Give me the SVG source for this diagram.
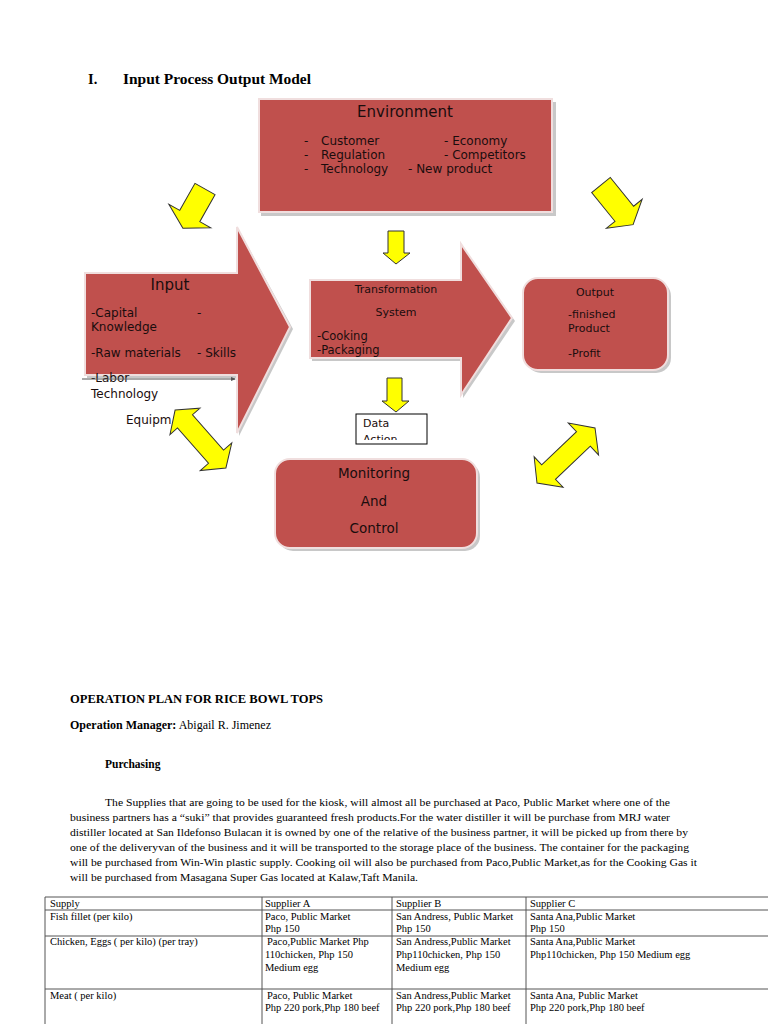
<svg xmlns="http://www.w3.org/2000/svg" width="768" height="1024" viewBox="0 0 768 1024">
<style>
.red{fill:#c0504d;stroke:#f0dede;stroke-width:2}
.sh{fill:#9a9a9a;opacity:0.55}
.yel{fill:#ffff00;stroke:#333;stroke-width:1;stroke-linejoin:miter}
.d{font-family:"DejaVu Sans",Verdana,sans-serif;fill:#1a0d0d}
.s{font-family:"Liberation Serif","Times New Roman",serif;fill:#000}
.b{font-weight:bold}
.tl{stroke:#555;stroke-width:1;fill:none}
</style>
<defs>
<clipPath id="daclip"><rect x="357" y="415" width="69" height="25"/></clipPath>
</defs>
<rect width="768" height="1024" fill="#fff"/>

<text class="s b" x="88" y="84" font-size="14.5">I.</text>
<text class="s b" x="123" y="84" font-size="14.5" textLength="188" lengthAdjust="spacingAndGlyphs">Input Process Output Model</text>

<g id="environment">
<rect class="sh" x="261" y="102" width="295" height="114"/>
<rect class="red" x="259" y="99" width="293" height="113"/>
<text class="d" x="405" y="117" font-size="15" text-anchor="middle">Environment</text>
<g font-size="12" class="d">
<text class="d" x="304" y="145">-</text><text class="d" x="321" y="145">Customer</text>
<text class="d" x="304" y="159">-</text><text class="d" x="321" y="159">Regulation</text>
<text class="d" x="304" y="173">-</text><text class="d" x="321" y="173">Technology</text>
<text class="d" x="444" y="145">-  Economy</text>
<text class="d" x="444" y="159">- Competitors</text>
<text class="d" x="408" y="173">- New product</text>
</g>
</g>

<g id="input">
<path class="sh" d="M87,276 H239 V230 L293,329 L239,436 V378 H87 Z"/>
<path class="red" d="M85,273 H237 V227 L290,327 L237,433 V375 H85 Z"/>
<text class="d" x="170" y="290" font-size="15" text-anchor="middle">Input</text>
<g font-size="12">
<text class="d" x="91" y="317">-Capital</text><text class="d" x="197" y="317">-</text>
<text class="d" x="91" y="331">Knowledge</text>
<text class="d" x="91" y="357">-Raw materials</text><text class="d" x="197" y="357">- Skills</text>
<text class="d" x="91" y="382">-Labor</text>
<text class="d" x="91" y="398">Technology</text>
<text class="d" x="126" y="424">Equipm</text>
</g>
<line x1="82" y1="379" x2="235" y2="379" stroke="#555" stroke-width="1"/>
<path d="M231,377 L236,379 L231,381 Z" fill="#555"/>
</g>

<g id="transformation">
<path class="sh" d="M312,283 H463 V247 L515,321 L463,398 V361 H312 Z"/>
<path class="red" d="M310,280 H461 V244 L512,318 L461,395 V358 H310 Z"/>
<g font-size="11" text-anchor="middle">
<text class="d" x="396" y="293">Transformation</text>
<text class="d" x="396" y="316">System</text>
</g>
<text class="d" x="317" y="340" font-size="11.5">-Cooking</text>
<text class="d" x="317" y="354" font-size="11.5">-Packaging</text>
</g>

<g id="output">
<rect class="sh" x="526" y="281" width="145" height="92" rx="15"/>
<rect class="red" x="523" y="278" width="145" height="92" rx="15"/>
<text class="d" x="595" y="296" font-size="11" text-anchor="middle">Output</text>
<g font-size="11">
<text class="d" x="568" y="318">-finished</text>
<text class="d" x="568" y="332">Product</text>
<text class="d" x="568" y="357">-Profit</text>
</g>
</g>

<g id="data-action">
<rect x="356" y="414" width="71" height="30" fill="#fff" stroke="#000" stroke-width="1"/>
<g clip-path="url(#daclip)" font-size="11">
<text class="d" x="363" y="427">Data</text>
<text class="d" x="363" y="443">Action</text>
</g>
</g>

<g id="monitoring">
<rect class="sh" x="278" y="462" width="202" height="89" rx="15"/>
<rect class="red" x="275" y="459" width="202" height="89" rx="15"/>
<g font-size="13.5" text-anchor="middle">
<text class="d" x="374" y="478">Monitoring</text>
<text class="d" x="374" y="506">And</text>
<text class="d" x="374" y="533">Control</text>
</g>
</g>

<g id="connectors">
<path class="yel" d="M388,231 H404 V253 H410 L396,264 L383,253 H388 Z"/>
<path class="yel" d="M387,378 H402 V401 H409 L396,412 L382,401 H387 Z"/>
<path class="yel" transform="translate(205,189) rotate(119.4)" d="M0,-11.5 L31,-11.5 L31,-24 L45,0 L31,24 L31,11.5 L0,11.5 Z"/>
<path class="yel" transform="translate(601,185) rotate(51)" d="M0,-12 L37,-12 L37,-23 L51,0 L37,23 L37,12 L0,12 Z"/>
<path class="yel" transform="translate(200.5,439) rotate(48.7)" d="M-38.5,0 L-23.5,-20 L-23.5,-10 L23.5,-10 L23.5,-21 L38.5,0 L23.5,21 L23.5,10 L-23.5,10 L-23.5,20 Z"/>
<path class="yel" transform="translate(566,455.5) rotate(-43.5)" d="M-40,0 L-24,-21 L-24,-10 L24,-10 L24,-22 L40,0 L24,22 L24,10 L-24,10 L-24,21 Z"/>
</g>

<g id="text-body">
<text class="s b" x="70" y="703" font-size="12" textLength="253" lengthAdjust="spacingAndGlyphs">OPERATION PLAN FOR RICE BOWL TOPS</text>
<text class="s" x="70" y="729" font-size="12"><tspan font-weight="bold">Operation Manager:</tspan> Abigail R. Jimenez</text>
<text class="s b" x="105" y="768" font-size="11.5">Purchasing</text>
<g font-size="11">
<text class="s" x="105" y="806" textLength="565" lengthAdjust="spacingAndGlyphs">The Supplies that are going to be used for the kiosk, will almost all be purchased at Paco, Public Market where one of the</text>
<text class="s" x="70" y="821" textLength="600" lengthAdjust="spacingAndGlyphs">business partners has a “suki” that provides guaranteed fresh products.For the water distiller it will be purchase from MRJ water</text>
<text class="s" x="70" y="836" textLength="618" lengthAdjust="spacingAndGlyphs">distiller located at San Ildefonso Bulacan it is owned by one of the relative of the business partner, it will be picked up from there by</text>
<text class="s" x="70" y="851" textLength="619" lengthAdjust="spacingAndGlyphs">one of the deliveryvan of the business and it will be transported to the storage place of the business. The container for the packaging</text>
<text class="s" x="70" y="866" textLength="627" lengthAdjust="spacingAndGlyphs">will be purchased from Win-Win plastic supply. Cooking oil will also be purchased from Paco,Public Market,as for the Cooking Gas it</text>
<text class="s" x="70" y="881" textLength="348" lengthAdjust="spacingAndGlyphs">will be purchased from Masagana Super Gas located at Kalaw,Taft Manila.</text>
</g>
</g>

<g id="table">
<path class="tl" d="M45,897 H770 M45,910 H770 M45,936 H770 M45,989 H770 M45,897 V1024 M262,897 V1024 M392,897 V1024 M526,897 V1024"/>
<g font-size="10.5">
<text class="s" x="50" y="907">Supply</text>
<text class="s" x="265" y="907">Supplier A</text>
<text class="s" x="396" y="907">Supplier B</text>
<text class="s" x="530" y="907">Supplier C</text>
<text class="s" x="50" y="920">Fish fillet (per kilo)</text>
<text class="s" x="265" y="920">Paco, Public Market</text>
<text class="s" x="265" y="932">Php 150</text>
<text class="s" x="396" y="920" fill="#444">San Andress, Public Market</text>
<text class="s" x="396" y="932">Php 150</text>
<text class="s" x="530" y="920">Santa Ana,Public Market</text>
<text class="s" x="530" y="932">Php 150</text>
<text class="s" x="50" y="945">Chicken, Eggs ( per kilo) (per tray)</text>
<text class="s" x="267" y="945">Paco,Public Market Php</text>
<text class="s" x="265" y="958">110chicken, Php 150</text>
<text class="s" x="265" y="971">Medium egg</text>
<text class="s" x="396" y="945">San Andress,Public Market</text>
<text class="s" x="396" y="958">Php110chicken, Php 150</text>
<text class="s" x="396" y="971">Medium egg</text>
<text class="s" x="530" y="945">Santa Ana,Public Market</text>
<text class="s" x="530" y="958">Php110chicken, Php 150 Medium egg</text>
<text class="s" x="50" y="999">Meat ( per kilo)</text>
<text class="s" x="267" y="999">Paco, Public Market</text>
<text class="s" x="265" y="1011">Php 220 pork,Php 180 beef</text>
<text class="s" x="396" y="999">San Andress,Public Market</text>
<text class="s" x="396" y="1011">Php 220 pork,Php 180 beef</text>
<text class="s" x="530" y="999">Santa Ana, Public Market</text>
<text class="s" x="530" y="1011">Php 220 pork,Php 180 beef</text>
</g>
</g>
</svg>
